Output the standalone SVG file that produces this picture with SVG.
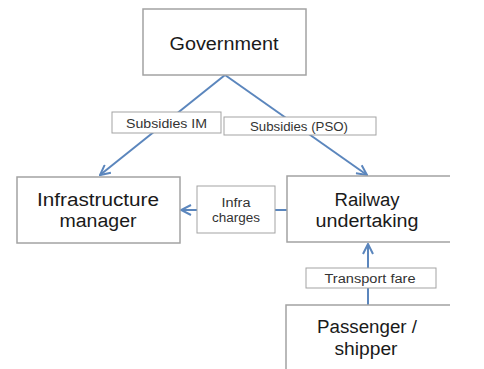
<svg xmlns="http://www.w3.org/2000/svg" width="484" height="369" viewBox="0 0 484 369">
<style>
.box{fill:#fff;stroke:#a3a3a3;stroke-width:1.5}
.lbl{fill:#fff;stroke:#a3a3a3;stroke-width:1}
.big{font-family:"Liberation Sans",Arial,sans-serif;font-size:18px;fill:#1a1a1a;text-anchor:middle}
.sm{font-family:"Liberation Sans",Arial,sans-serif;font-size:12.5px;fill:#333;text-anchor:middle}
.con{fill:none;stroke:#5b86bd;stroke-width:2}
</style>
<defs>
<marker id="arr" viewBox="0 0 12 12" refX="11" refY="6" markerWidth="12" markerHeight="12" markerUnits="userSpaceOnUse" orient="auto">
<path d="M1,1 L11,6 L1,11" fill="none" stroke="#5b86bd" stroke-width="2"/>
</marker>
</defs>
<rect width="484" height="369" fill="#fff"/>
<g id="connectors">
<line class="con" x1="225" y1="75" x2="100" y2="175" marker-end="url(#arr)"/>
<line class="con" x1="225" y1="75" x2="367" y2="175" marker-end="url(#arr)"/>
<line class="con" x1="287" y1="210" x2="181" y2="210" marker-end="url(#arr)"/>
<line class="con" x1="368" y1="305" x2="368" y2="244" marker-end="url(#arr)"/>
</g>
<g id="government">
<rect class="box" x="143" y="9" width="163" height="66"/>
<text class="big" x="224" y="50" textLength="109" lengthAdjust="spacingAndGlyphs">Government</text>
</g>
<g id="infrastructure-manager">
<rect class="box" x="17" y="177" width="163" height="66"/>
<text class="big" x="98" y="206" textLength="122" lengthAdjust="spacingAndGlyphs">Infrastructure</text>
<text class="big" x="98" y="227" textLength="77" lengthAdjust="spacingAndGlyphs">manager</text>
</g>
<g id="railway-undertaking">
<path d="M450,176 H287 V242 H450" fill="#fff" stroke="#a3a3a3" stroke-width="1.5"/>
<text class="big" x="367" y="206" textLength="65" lengthAdjust="spacingAndGlyphs">Railway</text>
<text class="big" x="367" y="227" textLength="103" lengthAdjust="spacingAndGlyphs">undertaking</text>
</g>
<g id="passenger-shipper">
<path d="M450,305 H286 V369" fill="#fff" stroke="#a3a3a3" stroke-width="1.5"/>
<text class="big" x="367" y="333" textLength="100" lengthAdjust="spacingAndGlyphs">Passenger /</text>
<text class="big" x="366" y="355" textLength="63" lengthAdjust="spacingAndGlyphs">shipper</text>
</g>
<g id="label-subsidies-im">
<rect class="lbl" x="112" y="112" width="109" height="21"/>
<text class="sm" x="166.5" y="128" textLength="81" lengthAdjust="spacingAndGlyphs">Subsidies IM</text>
</g>
<g id="label-subsidies-pso">
<rect class="lbl" x="224" y="117" width="152" height="18"/>
<text class="sm" x="299" y="131" textLength="98" lengthAdjust="spacingAndGlyphs">Subsidies (PSO)</text>
</g>
<g id="label-infra-charges">
<rect class="lbl" x="197" y="186" width="78" height="47"/>
<text class="sm" x="236" y="207" textLength="29" lengthAdjust="spacingAndGlyphs">Infra</text>
<text class="sm" x="236" y="222" textLength="48" lengthAdjust="spacingAndGlyphs">charges</text>
</g>
<g id="label-transport-fare">
<rect class="lbl" x="306" y="268" width="130" height="20"/>
<text class="sm" x="370" y="283" textLength="91" lengthAdjust="spacingAndGlyphs">Transport fare</text>
</g>
</svg>
